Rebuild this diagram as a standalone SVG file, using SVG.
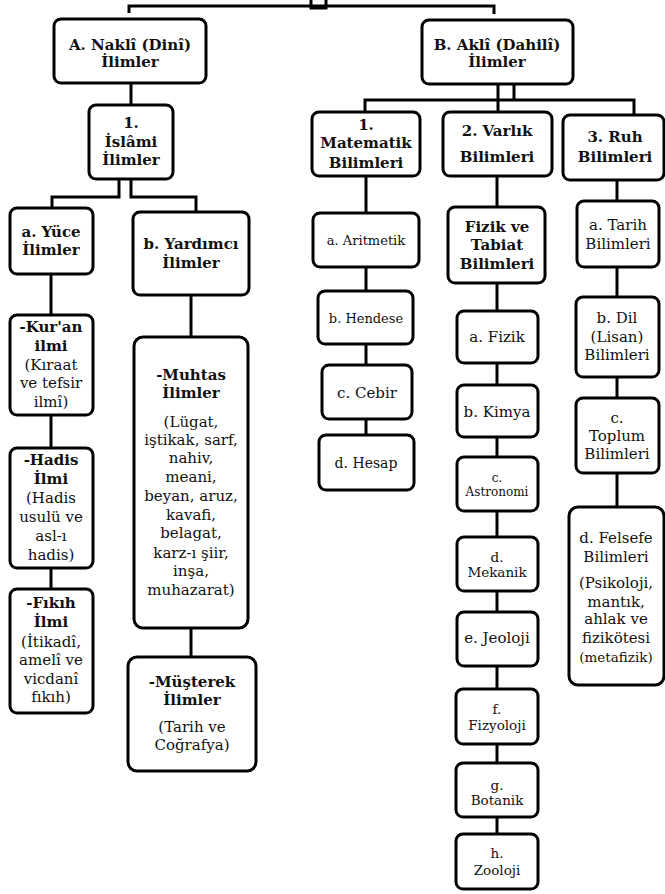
<svg xmlns="http://www.w3.org/2000/svg" width="665" height="894" viewBox="0 0 665 894">
<style>
.bg{fill:#fff}
.n{fill:#fff;stroke:#000;stroke-width:3}
.c{fill:none;stroke:#000;stroke-width:3}
text{font-family:"DejaVu Serif","Liberation Serif",serif;text-anchor:middle;fill:#111}
.b{font-weight:bold;font-size:15px}
.r{font-size:15px}
.s13{font-size:13px}
.s14{font-size:14px}
.s12{font-size:12px}
.s135{font-size:13.5px}
</style>
<rect class="bg" x="0" y="0" width="665" height="894"/>
<g id="connectors">
<rect class="c" x="311" y="-4" width="15" height="12"/>
<path class="c" d="M129,13 V6 H494 V14"/>
<path class="c" d="M131,83 V105"/>
<path class="c" d="M119,179 V197 H52 V208"/>
<path class="c" d="M131,179 V197 H196 V212"/>
<path class="c" d="M51,274 V315 M51,415 V448 M51,568 V589"/>
<path class="c" d="M191,295 V337 M191,628 V657"/>
<path class="c" d="M498,84 V100 M514,84 V100"/>
<path class="c" d="M365,111 V100 H634 V115 M498,100 V112"/>
<path class="c" d="M366,176 V213 M366,267 V291 M366,344 V365 M366,419 V435"/>
<path class="c" d="M497,176 V207 M497,283 V311 M497,363 V385 M497,437 V457 M497,511 V537 M497,591 V612 M497,666 V689 M497,744 V763 M497,817 V834"/>
<path class="c" d="M617,180 V201 M617,267 V297 M617,377 V398 M617,473 V507"/>
</g>
<g id="nakli"><rect class="n" x="54" y="19" width="152" height="64" rx="7"/>
<text class="b" x="130" y="50">A. Naklî (Dinî)</text><text class="b" x="130" y="67">İlimler</text></g>
<g id="akli"><rect class="n" x="422" y="20" width="151" height="64" rx="7"/>
<text class="b" x="497" y="50">B. Aklî (Dahilî)</text><text class="b" x="497" y="67">İlimler</text></g>
<g id="islami"><rect class="n" x="89" y="105" width="84" height="74" rx="7"/>
<text class="b" x="131" y="128">1.</text><text class="b" x="131" y="147">İslâmi</text><text class="b" x="131" y="165">İlimler</text></g>
<g id="yuce"><rect class="n" x="10" y="208" width="83" height="66" rx="7"/>
<text class="b" x="51" y="237">a. Yüce</text><text class="b" x="51" y="255">İlimler</text></g>
<g id="yardimci"><rect class="n" x="133" y="212" width="116" height="83" rx="7"/>
<text class="b" x="191" y="249">b. Yardımcı</text><text class="b" x="191" y="268">İlimler</text></g>
<g id="kuran"><rect class="n" x="10" y="315" width="83" height="100" rx="7"/>
<text class="b" x="51" y="332">-Kur'an</text><text class="b" x="51" y="351">ilmi</text>
<text class="r" x="51" y="370">(Kıraat</text><text class="r" x="51" y="388">ve tefsir</text><text class="r" x="51" y="407">ilmî)</text></g>
<g id="hadis"><rect class="n" x="10" y="448" width="83" height="120" rx="7"/>
<text class="b" x="51" y="465">-Hadis</text><text class="b" x="51" y="484">İlmi</text>
<text class="r" x="51" y="503">(Hadis</text><text class="r" x="51" y="522">usulü ve</text><text class="r" x="51" y="541">asl-ı</text><text class="r" x="51" y="560">hadis)</text></g>
<g id="fikih"><rect class="n" x="10" y="589" width="83" height="124" rx="7"/>
<text class="b" x="51" y="608">-Fıkıh</text><text class="b" x="51" y="627">İlmi</text>
<text class="r" x="51" y="647">(İtikadî,</text><text class="r" x="51" y="665">amelî ve</text><text class="r" x="51" y="684">vicdanî</text><text class="r" x="51" y="702">fıkıh)</text></g>
<g id="muhtas"><rect class="n" x="134" y="337" width="114" height="291" rx="9"/>
<text class="b" x="191" y="380">-Muhtas</text><text class="b" x="191" y="398">İlimler</text>
<text class="r" x="191" y="427">(Lügat,</text><text class="r" x="191" y="445">iştikak, sarf,</text><text class="r" x="191" y="463">nahiv,</text><text class="r" x="191" y="482">meani,</text><text class="r" x="191" y="501">beyan, aruz,</text><text class="r" x="191" y="520">kavafi,</text><text class="r" x="191" y="538">belagat,</text><text class="r" x="191" y="558">karz-ı şiir,</text><text class="r" x="191" y="576">inşa,</text><text class="r" x="191" y="595">muhazarat)</text></g>
<g id="musterek"><rect class="n" x="128" y="657" width="128" height="114" rx="9"/>
<text class="b" x="192" y="687">-Müşterek</text><text class="b" x="192" y="705">İlimler</text>
<text class="r" x="192" y="732">(Tarih ve</text><text class="r" x="192" y="750">Coğrafya)</text></g>
<g id="matematik"><rect class="n" x="312" y="112" width="108" height="64" rx="7"/>
<text class="b" x="366" y="130">1.</text><text class="b" x="366" y="148">Matematik</text><text class="b" x="366" y="168">Bilimleri</text></g>
<g id="varlik"><rect class="n" x="443" y="112" width="109" height="64" rx="7"/>
<text class="b" x="497" y="136">2. Varlık</text><text class="b" x="497" y="162">Bilimleri</text></g>
<g id="ruh"><rect class="n" x="563" y="115" width="101" height="65" rx="7"/>
<text class="b" x="615" y="142">3. Ruh</text><text class="b" x="615" y="162">Bilimleri</text></g>
<g id="aritmetik"><rect class="n" x="313" y="213" width="106" height="54" rx="7"/>
<text class="r s13" x="366" y="245">a. Aritmetik</text></g>
<g id="hendese"><rect class="n" x="318" y="291" width="95" height="53" rx="7"/>
<text class="r s13" x="366" y="323">b. Hendese</text></g>
<g id="cebir"><rect class="n" x="322" y="365" width="90" height="54" rx="7"/>
<text class="r" x="367" y="398">c. Cebir</text></g>
<g id="hesap"><rect class="n" x="319" y="435" width="95" height="55" rx="7"/>
<text class="r s14" x="366" y="468">d. Hesap</text></g>
<g id="fiziktabiat"><rect class="n" x="448" y="207" width="97" height="76" rx="7"/>
<text class="b" x="497" y="232">Fizik ve</text><text class="b" x="497" y="250">Tabiat</text><text class="b" x="497" y="269">Bilimleri</text></g>
<g id="fizik"><rect class="n" x="457" y="311" width="81" height="52" rx="7"/>
<text class="r" x="497" y="342">a. Fizik</text></g>
<g id="kimya"><rect class="n" x="457" y="385" width="81" height="52" rx="7"/>
<text class="r" x="497" y="417">b. Kimya</text></g>
<g id="astronomi"><rect class="n" x="457" y="457" width="81" height="54" rx="7"/>
<text class="r s12" x="497" y="482">c.</text><text class="r s12" x="497" y="496">Astronomi</text></g>
<g id="mekanik"><rect class="n" x="457" y="537" width="81" height="54" rx="7"/>
<text class="r s135" x="497" y="562">d.</text><text class="r s135" x="497" y="577">Mekanik</text></g>
<g id="jeoloji"><rect class="n" x="457" y="612" width="81" height="54" rx="7"/>
<text class="r" x="497" y="643">e. Jeoloji</text></g>
<g id="fizyoloji"><rect class="n" x="456" y="689" width="82" height="55" rx="7"/>
<text class="r s135" x="497" y="714">f.</text><text class="r s135" x="497" y="730">Fizyoloji</text></g>
<g id="botanik"><rect class="n" x="456" y="763" width="82" height="54" rx="7"/>
<text class="r s135" x="497" y="790">g.</text><text class="r s135" x="497" y="805">Botanik</text></g>
<g id="zooloji"><rect class="n" x="456" y="834" width="82" height="55" rx="7"/>
<text class="r s135" x="497" y="858">h.</text><text class="r s135" x="497" y="875">Zooloji</text></g>
<g id="tarih"><rect class="n" x="577" y="201" width="82" height="66" rx="7"/>
<text class="r" x="618" y="230">a. Tarih</text><text class="r" x="618" y="249">Bilimleri</text></g>
<g id="dil"><rect class="n" x="576" y="297" width="83" height="80" rx="7"/>
<text class="r" x="617" y="323">b. Dil</text><text class="r" x="617" y="342">(Lisan)</text><text class="r" x="617" y="360">Bilimleri</text></g>
<g id="toplum"><rect class="n" x="576" y="398" width="83" height="75" rx="7"/>
<text class="r" x="617" y="423">c.</text><text class="r" x="617" y="441">Toplum</text><text class="r" x="617" y="459">Bilimleri</text></g>
<g id="felsefe"><rect class="n" x="569" y="507" width="95" height="178" rx="9"/>
<text class="r" x="616" y="543">d. Felsefe</text><text class="r" x="616" y="562">Bilimleri</text>
<text class="r" x="616" y="588">(Psikoloji,</text><text class="r" x="616" y="607">mantık,</text><text class="r" x="616" y="624">ahlak ve</text><text class="r" x="616" y="643">fizikötesi</text><text class="r s135" x="616" y="662">(metafizik)</text></g>
</svg>
